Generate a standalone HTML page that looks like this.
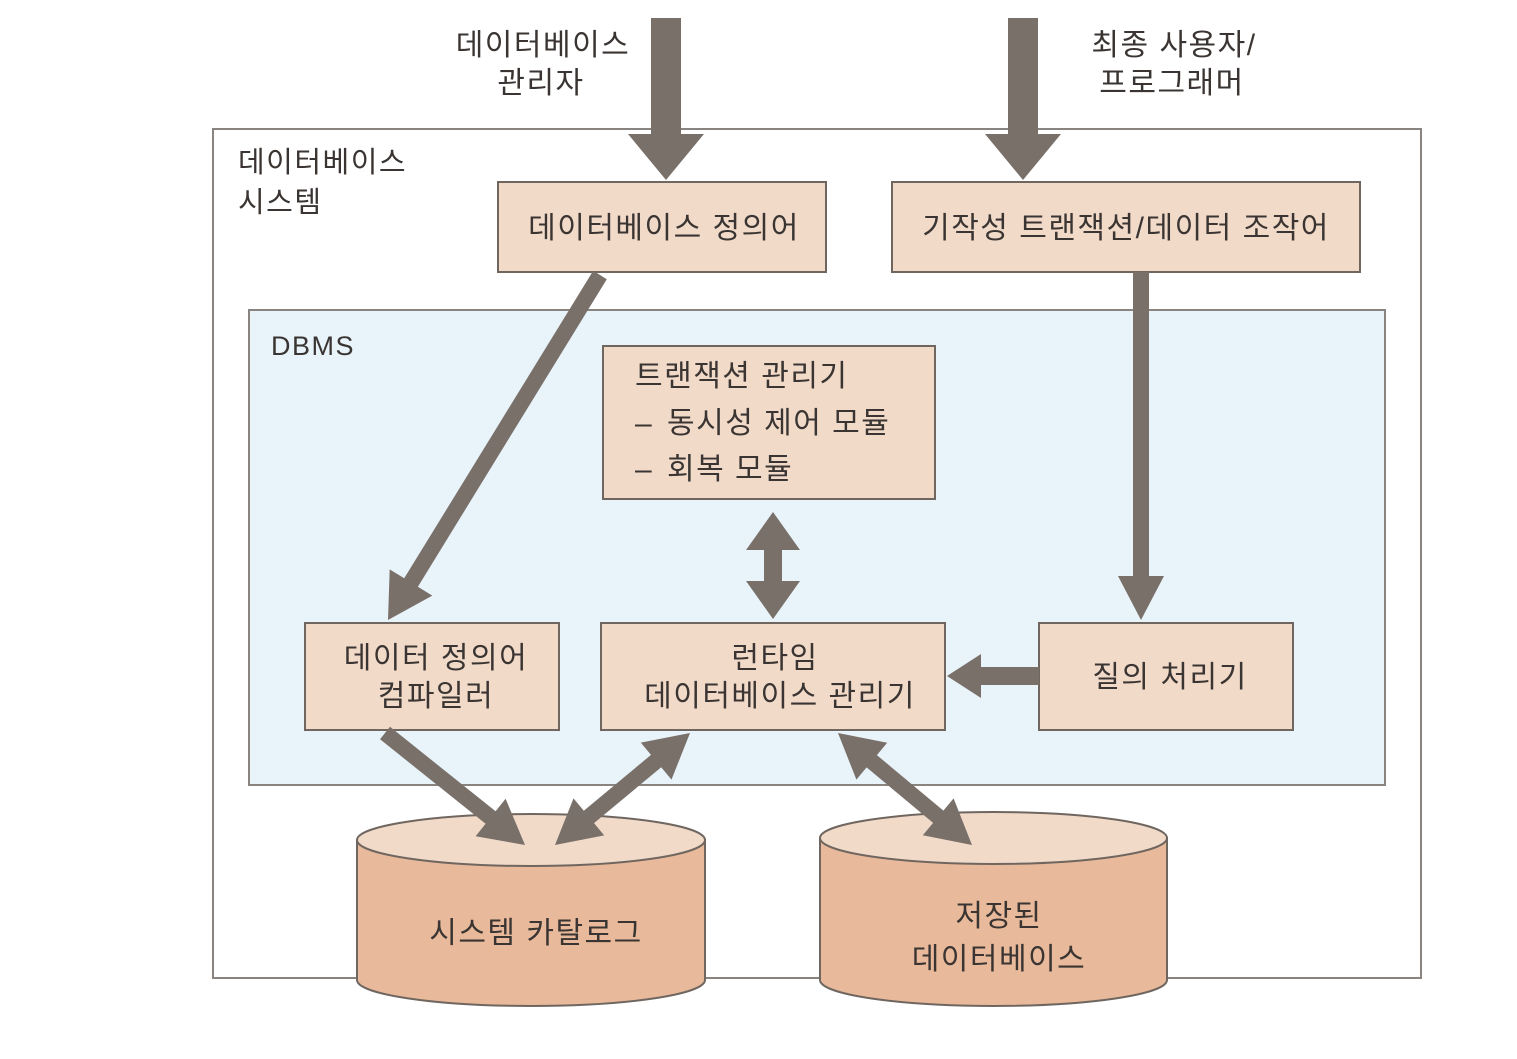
<!DOCTYPE html>
<html><head><meta charset="utf-8">
<style>
html,body{margin:0;padding:0;background:#fff;}
svg text{font-family:"Liberation Sans","Noto Sans CJK KR",sans-serif;fill:#3a3532;letter-spacing:1.5px;}
</style></head>
<body>
<svg id="s" width="1517" height="1054" viewBox="0 0 1517 1054" xmlns="http://www.w3.org/2000/svg">
<rect x="213" y="129" width="1208" height="849" fill="#fff" stroke="#8a8480" stroke-width="2"/>
<text x="238" y="172" font-size="29">데이터베이스</text>
<text x="238" y="212" font-size="29">시스템</text>
<rect x="249" y="310" width="1136" height="475" fill="#e8f3fa" stroke="#8a8480" stroke-width="2"/>
<text x="271" y="355" font-size="27">DBMS</text>

<g fill="#f2dac9" stroke="#6f6660" stroke-width="2">
<rect x="498" y="182" width="328" height="90"/>
<rect x="892" y="182" width="468" height="90"/>
<rect x="603" y="346" width="332" height="153"/>
<rect x="305" y="623" width="254" height="107"/>
<rect x="601" y="623" width="344" height="107"/>
<rect x="1039" y="623" width="254" height="107"/>
</g>
<g font-size="30" text-anchor="middle">
<text x="664" y="238">데이터베이스 정의어</text>
<text x="1126" y="238">기작성 트랜잭션/데이터 조작어</text>
<text x="436" y="668">데이터 정의어</text>
<text x="436" y="706">컴파일러</text>
<text x="775" y="668">런타임</text>
<text x="780" y="706">데이터베이스 관리기</text>
<text x="1170" y="687">질의 처리기</text>
<text x="543" y="55">데이터베이스</text>
<text x="541" y="93">관리자</text>
<text x="1174" y="55">최종 사용자/</text>
<text x="1172" y="93">프로그래머</text>
</g>
<g font-size="30">
<text x="635" y="386">트랜잭션 관리기</text>
<text x="635" y="433">–</text><text x="667" y="433">동시성 제어 모듈</text>
<text x="635" y="479">–</text><text x="667" y="479">회복 모듈</text>
</g>

<g stroke="#6f6660" stroke-width="2">
<path d="M357,840 L357,980 A174,26 0 0 0 705,980 L705,840 Z" fill="#e8b99a"/>
<ellipse cx="531" cy="840" rx="174" ry="26" fill="#f2dac9"/>
<path d="M820,838 L820,980 A173.5,26 0 0 0 1167,980 L1167,838 Z" fill="#e8b99a"/>
<ellipse cx="993.5" cy="838" rx="173.5" ry="26" fill="#f2dac9"/>
</g>
<g font-size="30" text-anchor="middle">
<text x="536" y="943">시스템 카탈로그</text>
<text x="999" y="926">저장된</text>
<text x="999" y="969">데이터베이스</text>
</g>
<g id="arrows" fill="#7a706a"></g>
</svg>
<script>
function arrow(x1,y1,x2,y2,w,hw,hl,both){
 var dx=x2-x1,dy=y2-y1,L=Math.hypot(dx,dy),ux=dx/L,uy=dy/L,px=-uy,py=ux;
 function P(t,o){return (x1+ux*t+px*o).toFixed(1)+","+(y1+uy*t+py*o).toFixed(1);}
 var e=L-hl,pts=[];
 if(both){pts.push(P(0,0),P(hl,hw/2),P(hl,w/2));}else{pts.push(P(0,w/2));}
 pts.push(P(e,w/2),P(e,hw/2),P(L,0),P(e,-hw/2),P(e,-w/2));
 if(both){pts.push(P(hl,-w/2),P(hl,-hw/2));}else{pts.push(P(0,-w/2));}
 var p=document.createElementNS("http://www.w3.org/2000/svg","polygon");
 p.setAttribute("points",pts.join(" "));
 document.getElementById("arrows").appendChild(p);
}
arrow(666,18,666,180,30,76,46,false);
arrow(1023,18,1023,180,30,76,46,false);
arrow(600,275,388,620,16,50,44,false);
arrow(1141,272,1141,620,16,46,44,false);
arrow(773,512,773,619,18,54,38,true);
arrow(1039,676,947,676,18,44,34,false);
arrow(385,733,525,845,16,48,44,false);
arrow(555,845,690,733,16,48,44,true);
arrow(838,733,972,845,16,48,44,true);
</script>
</body></html>
